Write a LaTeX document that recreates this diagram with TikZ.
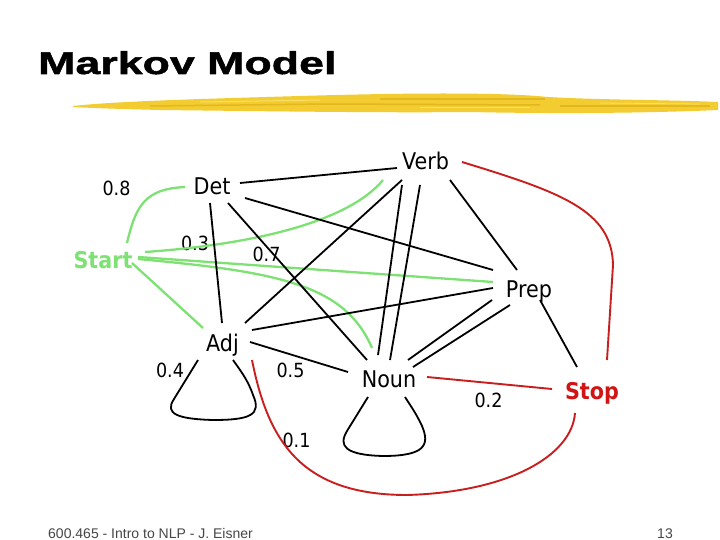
\documentclass[tikz,border=0pt]{standalone}
\usepackage{fontspec}
\setmainfont{DejaVu Sans}[FakeStretch=0.9]
\newfontfamily\titlefont{Liberation Sans}[FakeStretch=1.42,FakeBold=1.6]
\newfontfamily\footfont{Liberation Sans}
\usetikzlibrary{calc}
\definecolor{grn}{RGB}{125,225,115}
\definecolor{rd}{RGB}{200,30,30}
\definecolor{stopred}{RGB}{210,20,20}
\definecolor{brush}{RGB}{242,204,48}
\definecolor{brushdk}{RGB}{228,184,28}
\definecolor{brushlt}{RGB}{250,224,100}
\definecolor{foot}{RGB}{70,70,70}
\tikzset{
  state/.style={anchor=base, inner sep=0pt, font=\fontsize{23}{23}\selectfont},
  prob/.style={anchor=base, inner sep=0pt, font=\fontsize{19.5}{19.5}\selectfont},
  gedge/.style={draw=grn, line width=2.3pt},
  bedge/.style={draw=black, line width=1.8pt},
  redge/.style={draw=rd, line width=1.9pt},
}
\begin{document}
\begin{tikzpicture}[x=1pt,y=-1pt]
\useasboundingbox (0,0) rectangle (720,540);
\fill[white] (0,0) rectangle (720,540);

% title
\node[anchor=base west, inner sep=0pt, font=\titlefont\bfseries\fontsize{31.5}{31.5}\selectfont] (title) at (38,74) {Markov Model};

% brush underline
\fill[brush] (73,106) .. controls (120,101) and (200,99) .. (300,96)
  .. controls (400,93) and (500,92) .. (548,97)
  .. controls (600,100) and (680,100) .. (718,102)
  -- (718,110) .. controls (650,113) and (560,114) .. (470,112)
  .. controls (380,113) and (250,111) .. (160,110)
  .. controls (120,109) and (90,108) .. (73,107) -- cycle;
\draw[brushdk, line width=1.5pt] (150,106) -- (330,104) -- (540,105);
\draw[brushdk, line width=1.2pt] (380,99) -- (545,99);
\draw[brushdk, line width=1.2pt] (560,106) -- (710,106);
\draw[brushlt, line width=1pt] (200,102) -- (320,100);
\draw[brushlt, line width=1pt] (420,108) -- (530,108);
\draw[brushlt, line width=0.8pt] (600,103) -- (700,104);

% states
\node[state, text=grn] (Start) at (103,268) {\bfseries Start};
\node[state] (Det) at (212,195) {Det};
\node[state] (Verb) at (425.5,170) {Verb};
\node[state] (Prep) at (529,297) {Prep};
\node[state] (Adj) at (222.5,351) {Adj};
\node[state] (Noun) at (389,387) {Noun};
\node[state, text=stopred] (Stop) at (592,399) {\bfseries Stop};

% probabilities
\node[prob] (p08) at (116.5,196) {0.8};
\node[prob] (p03) at (195,251) {0.3};
\node[prob] (p07) at (266.5,261.5) {0.7};
\node[prob] (p04) at (170,377) {0.4};
\node[prob] (p05) at (290.5,377) {0.5};
\node[prob] (p01) at (296.5,447) {0.1};
\node[prob] (p02) at (488.5,407) {0.2};

% green edges from Start
\path[gedge] ($(Start.base)+(24,-25)$) .. controls +(9,-38) and +(-40,2) .. ($(Det.base)+(-27,-8)$);
\path[gedge] ($(Start.base)+(42,-16)$) .. controls +(115,-8) and +(-33,40) .. ($(Verb.base)+(-42.5,10)$);
\path[gedge] ($(Start.base)+(35,-11)$) -- ($(Prep.base)+(-36,-15)$);
\path[gedge] ($(Start.base)+(35,-9)$) .. controls +(142,13) and +(-27,-63) .. ($(Noun.base)+(-17,-39)$);
\path[gedge] ($(Start.base)+(29,-5)$) -- ($(Adj.base)+(-19.5,-23)$);

% black edges
\path[bedge] ($(Det.base)+(28,-12)$) -- ($(Verb.base)+(-28.5,-2)$);
\path[bedge] ($(Det.base)+(33,3)$) -- ($(Prep.base)+(-36,-27)$);
\path[bedge] ($(Det.base)+(-2,8)$) -- ($(Adj.base)+(-0.5,-28)$);
\path[bedge] ($(Det.base)+(16,8)$) -- ($(Noun.base)+(-22,-27)$);
\path[bedge] ($(Verb.base)+(-23.5,10)$) -- ($(Adj.base)+(22.5,-28)$);
\path[bedge] ($(Verb.base)+(-23.5,15)$) -- ($(Noun.base)+(-11,-32)$);
\path[bedge] ($(Verb.base)+(-5.5,15)$) -- ($(Noun.base)+(1,-27)$);
\path[bedge] ($(Verb.base)+(24.5,10)$) -- ($(Prep.base)+(-12,-27)$);
\path[bedge] ($(Prep.base)+(-36,-9)$) -- ($(Adj.base)+(29.5,-21)$);
\path[bedge] ($(Prep.base)+(-37,3)$) -- ($(Noun.base)+(19,-27)$);
\path[bedge] ($(Prep.base)+(-19,8)$) -- ($(Noun.base)+(24,-20)$);
\path[bedge] ($(Prep.base)+(11,3)$) -- ($(Stop.base)+(-15,-32)$);
\path[bedge] ($(Adj.base)+(27.5,-9)$) -- ($(Noun.base)+(-41,-15)$);
% self loops
\path[bedge] ($(Adj.base)+(-24.5,9)$) -- ($(Adj.base)+(-48.5,48)$)
  .. controls +(-10,15) and +(-35,-1) .. ($(Adj.base)+(-9.5,69)$)
  .. controls +(37,0) and +(9,20) .. ($(Adj.base)+(30.5,44)$)
  .. controls +(-5,-15) and +(7,10) .. ($(Adj.base)+(10.5,9)$);
\path[bedge] ($(Noun.base)+(-21,10)$) -- ($(Noun.base)+(-42,44)$)
  .. controls +(-9,15) and +(-38,-1) .. ($(Noun.base)+(-6,69)$)
  .. controls +(42,0) and +(8,19) .. ($(Noun.base)+(33,39)$)
  .. controls +(-6,-13) and +(5,8) .. ($(Noun.base)+(16,10)$);

% red edges to Stop
\path[redge] ($(Verb.base)+(36.5,-8)$) .. controls +(98,30) and +(-1,-55) .. ($(Stop.base)+(21,-134)$) -- ($(Stop.base)+(15,-39)$);
\path[redge] ($(Noun.base)+(38,-10)$) -- ($(Stop.base)+(-40,-10)$);
\path[redge] ($(Adj.base)+(29.5,9)$) .. controls +(16,80) and +(-107,0) .. ($(Noun.base)+(18,108)$)
  .. controls +(103,-3) and +(-3,42) .. ($(Stop.base)+(-17,14)$);

% footer
\node[anchor=base west, inner sep=0pt, text=foot, font=\footfont\fontsize{14}{14}\selectfont] (footer) at (48,538) {600.465 - Intro to NLP - J. Eisner};
\node[anchor=base east, inner sep=0pt, text=foot, font=\footfont\fontsize{14}{14}\selectfont] (pagenum) at (673,538) {13};
\end{tikzpicture}
\end{document}
